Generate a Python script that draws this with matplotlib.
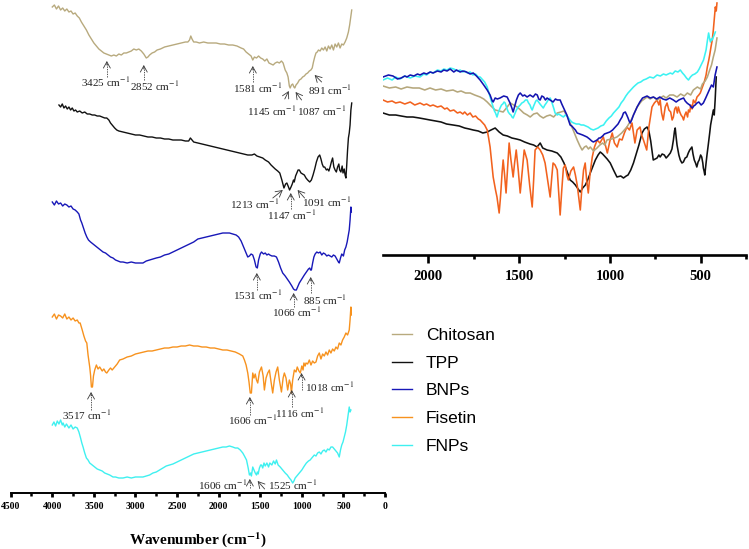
import numpy as np
import matplotlib
matplotlib.use("Agg")
import matplotlib.pyplot as plt
from matplotlib.lines import Line2D

plt.rcParams['mathtext.fontset'] = 'stix'

# ---------------- data (relative transmittance, a.u.) ----------------
series_names = ["Chitosan", "TPP", "BNPs", "Fisetin", "FNPs"]

# full-range spectra (left panel)
chitosan_full = [(4000,93),(3975,95),(3950,91),(3925,94),(3900,90),(3875,92),(3850,89),(3825,91),(3800,88),(3775,89),(3750,86),(3725,87),(3700,84),(3675,82),(3650,78),(3620,74),(3590,70),(3560,65),(3530,61),(3500,57),(3470,54),(3440,51),(3410,49),(3380,47),(3350,46),(3320,45),(3290,44),(3260,45),(3230,44),(3200,46),(3170,45),(3140,47),(3110,47),(3080,48),(3050,49),(3020,51),(2990,50),(2960,51),(2930,49),(2900,46),(2870,42),(2850,43),(2830,45),(2800,47),(2770,48),(2740,50),(2700,51),(2650,53),(2600,54),(2550,55),(2500,56),(2450,57),(2400,58),(2370,58),(2350,60),(2335,64),(2320,61),(2300,58),(2270,58),(2230,57),(2180,58),(2130,57),(2080,57),(2030,57),(1980,56),(1930,56),(1880,55),(1830,55),(1780,54),(1730,52),(1700,51),(1670,48),(1640,46),(1610,44),(1590,40),(1570,43),(1545,42),(1520,44),(1495,42),(1470,41),(1445,39),(1420,41),(1395,37),(1370,36),(1345,35),(1320,37),(1295,38),(1270,37),(1245,39),(1225,37),(1200,30),(1180,27),(1165,23),(1150,14),(1140,12),(1125,15),(1110,16),(1095,13),(1085,12),(1070,15),(1050,17),(1030,20),(1010,21),(990,23),(970,24),(950,26),(930,27),(910,29),(891,30),(875,32),(860,38),(845,43),(830,47),(815,48),(800,50),(780,49),(760,52),(740,50),(720,53),(700,49),(680,54),(660,51),(640,55),(620,50),(600,56),(580,53),(560,57),(540,52),(520,56),(500,55),(480,58),(460,62),(440,68),(425,75),(410,84),(400,90)]
tpp_full = [(3920,95),(3900,93),(3880,96),(3860,92),(3840,94),(3820,91),(3800,93),(3780,90),(3760,92),(3740,89),(3720,90),(3700,88),(3670,89),(3640,87),(3610,88),(3580,86),(3550,86),(3520,85),(3490,85),(3460,84),(3430,84),(3400,83),(3370,82),(3345,82),(3320,80),(3300,77),(3280,75),(3250,72),(3225,70),(3200,69),(3150,68),(3100,67),(3050,66),(3000,65),(2950,65),(2900,64),(2850,63),(2800,63),(2750,62),(2700,62),(2650,61),(2600,61),(2550,60),(2500,60),(2450,60),(2400,59),(2360,59),(2340,62),(2320,60),(2300,58),(2250,57),(2200,56),(2150,55),(2100,54),(2050,53),(2000,52),(1950,51),(1900,50),(1850,49),(1800,48),(1750,47),(1700,46),(1650,45),(1600,45),(1570,46),(1540,44),(1505,43),(1470,42),(1440,40),(1400,38),(1370,35),(1345,33),(1320,31),(1290,29),(1265,27),(1240,20),(1215,12),(1195,16),(1180,17),(1165,14),(1147,10),(1130,13),(1115,16),(1100,20),(1091,18),(1075,24),(1060,27),(1045,30),(1030,30),(1010,27),(990,26),(970,25),(950,22),(930,20),(905,18),(885,20),(865,25),(845,31),(825,38),(805,43),(785,45),(770,41),(755,36),(740,33),(725,33),(705,30),(690,31),(675,29),(660,33),(645,38),(630,42),(615,33),(600,30),(585,28),(570,33),(555,36),(545,30),(530,28),(515,34),(505,27),(490,31),(480,25),(470,22),(460,35),(450,50),(440,62),(430,67),(420,75),(410,90),(400,97)]
bnps_full = [(4000,98),(3975,95),(3950,99),(3925,96),(3900,97),(3875,94),(3850,96),(3825,95),(3800,93),(3775,94),(3750,91),(3725,90),(3700,88),(3680,86),(3660,80),(3645,77),(3625,72),(3605,67),(3585,63),(3565,60),(3540,58),(3510,56),(3480,54),(3450,52),(3420,50),(3390,48),(3360,47),(3330,45),(3300,43),(3270,42),(3240,40),(3210,39),(3180,38),(3150,38),(3100,37),(3050,38),(3000,37),(2950,37),(2910,37),(2870,39),(2830,40),(2790,41),(2750,42),(2700,43),(2650,45),(2600,46),(2550,48),(2500,50),(2450,52),(2400,54),(2350,56),(2300,58),(2250,61),(2200,62),(2150,63),(2100,64),(2050,65),(2000,66),(1950,67),(1910,67),(1870,67),(1830,66),(1790,65),(1760,63),(1730,59),(1710,55),(1690,51),(1670,47),(1650,43),(1630,44),(1610,46),(1590,45),(1570,40),(1550,33),(1535,32),(1520,40),(1500,46),(1485,48),(1460,46),(1440,47),(1420,45),(1400,46),(1385,45),(1360,44),(1330,44),(1305,43),(1280,38),(1255,32),(1230,27),(1200,24),(1175,21),(1150,18),(1120,14),(1100,11),(1085,10),(1066,10),(1050,13),(1030,17),(1000,21),(970,25),(945,28),(920,31),(905,32),(895,30),(885,30),(870,37),(855,43),(840,46),(820,48),(800,47),(780,48),(760,45),(740,47),(720,46),(700,44),(680,45),(660,44),(640,43),(620,45),(600,44),(580,41),(560,38),(550,37),(535,42),(520,46),(500,44),(485,50),(470,53),(455,58),(440,65),(430,70),(420,80),(410,93),(405,88)]
fisetin_full = [(4000,83),(3975,86),(3950,81),(3925,85),(3900,84),(3875,82),(3850,86),(3825,81),(3800,83),(3775,80),(3750,82),(3725,79),(3700,80),(3680,77),(3665,77),(3640,70),(3620,64),(3600,59),(3585,57),(3570,45),(3550,33),(3540,25),(3530,13),(3517,13),(3505,24),(3490,30),(3470,35),(3450,31),(3430,33),(3400,29),(3380,31),(3360,28),(3345,27),(3320,30),(3300,32),(3280,30),(3250,33),(3220,36),(3190,40),(3150,41),(3100,43),(3050,44),(3000,46),(2950,47),(2900,48),(2850,49),(2800,49),(2750,50),(2700,51),(2650,52),(2600,52),(2550,53),(2500,53),(2450,54),(2400,54),(2350,55),(2300,54),(2250,54),(2200,53),(2150,53),(2100,52),(2050,52),(2000,51),(1950,50),(1900,50),(1850,49),(1800,48),(1750,46),(1710,44),(1690,40),(1670,35),(1650,27),(1635,18),(1620,7),(1606,7),(1595,20),(1590,27),(1575,22),(1560,26),(1545,20),(1530,17),(1510,28),(1485,33),(1465,24),(1450,10),(1430,22),(1410,27),(1390,30),(1370,18),(1350,7),(1330,20),(1310,28),(1290,33),(1270,20),(1245,8),(1225,22),(1210,27),(1190,22),(1170,10),(1150,20),(1135,16),(1125,7),(1110,20),(1090,30),(1070,28),(1055,33),(1035,29),(1018,27),(1000,34),(985,30),(975,37),(960,34),(950,37),(930,36),(910,40),(890,35),(870,39),(850,37),(830,38),(810,44),(790,47),(770,41),(750,46),(730,44),(710,48),(690,45),(670,50),(650,47),(630,51),(610,49),(590,53),(570,51),(550,57),(530,55),(510,60),(490,63),(470,67),(450,65),(430,70),(420,80),(410,93),(405,85)]
fnps_full = [(4000,75),(3980,78),(3960,74),(3940,79),(3920,76),(3900,80),(3880,75),(3870,77),(3850,73),(3830,76),(3800,72),(3775,75),(3750,71),(3725,73),(3700,72),(3680,68),(3660,62),(3645,57),(3630,53),(3610,47),(3590,42),(3570,40),(3550,37),(3520,35),(3490,33),(3460,31),(3430,30),(3400,29),(3370,27),(3340,26),(3310,25),(3270,23),(3240,23),(3200,22),(3150,22),(3100,23),(3050,22),(3000,23),(2950,23),(2910,23),(2870,24),(2830,25),(2790,27),(2750,28),(2710,30),(2670,32),(2630,34),(2590,35),(2550,36),(2500,38),(2450,40),(2400,42),(2350,44),(2300,46),(2250,47),(2200,48),(2150,49),(2100,50),(2050,51),(2000,52),(1950,53),(1910,53),(1870,54),(1830,53),(1800,52),(1770,52),(1740,50),(1710,47),(1690,44),(1665,40),(1645,32),(1630,25),(1615,27),(1606,24),(1595,30),(1590,33),(1575,30),(1560,27),(1545,25),(1535,28),(1525,26),(1510,32),(1495,35),(1485,35),(1470,32),(1455,37),(1440,34),(1420,37),(1400,33),(1385,37),(1360,35),(1340,39),(1320,36),(1305,40),(1285,35),(1260,33),(1230,30),(1200,27),(1175,25),(1150,22),(1130,20),(1110,17),(1095,19),(1080,22),(1060,24),(1040,26),(1030,27),(1000,30),(970,34),(945,37),(920,39),(900,40),(870,43),(850,45),(830,44),(810,47),(790,48),(770,46),(750,49),(730,50),(710,48),(690,51),(670,50),(650,53),(630,53),(610,51),(590,49),(570,47),(550,43),(535,50),(520,55),(505,58),(490,63),(475,68),(460,75),(445,84),(430,93),(420,88),(410,90)]

# fingerprint-region spectra (right panel, common scale)
chitosan_fp = [(2250,169),(2215,167),(2180,168),(2150,166),(2118,168),(2085,167),(2050,167),(2020,165),(1991,167),(1960,165),(1930,166),(1900,164),(1864,165),(1840,163),(1820,164),(1795,162),(1770,162),(1745,160),(1715,158),(1695,156),(1676,153),(1655,149),(1632,145),(1610,144),(1588,143),(1570,147),(1549,152),(1530,150),(1511,148),(1492,145),(1475,142),(1455,140),(1439,138),(1420,141),(1401,142),(1385,139),(1367,137),(1348,139),(1329,140),(1310,138),(1290,142),(1270,143),(1253,144),(1235,139),(1219,132),(1200,124),(1180,115),(1165,109),(1153,105),(1140,108),(1130,109),(1118,106),(1108,108),(1090,104),(1071,107),(1055,110),(1040,112),(1028,110),(1016,115),(990,116),(961,118),(935,122),(906,128),(880,136),(850,148),(825,154),(795,158),(778,156),(760,158),(740,155),(723,157),(705,159),(690,157),(670,160),(650,160),(630,158),(610,161),(590,159),(573,162),(555,160),(540,165),(518,168),(500,166),(490,171),(475,174),(463,178),(450,185),(440,190),(430,198),(420,205),(410,217)]
tpp_fp = [(2250,142),(2215,140),(2180,140),(2150,139),(2118,138),(2085,138),(2050,137),(2020,136),(1991,135),(1960,134),(1930,133),(1900,131),(1864,130),(1830,129),(1800,127),(1775,126),(1753,125),(1725,124),(1700,122),(1676,123),(1655,125),(1632,127),(1610,123),(1588,120),(1565,119),(1540,117),(1515,116),(1494,115),(1470,113),(1440,111),(1420,110),(1401,108),(1384,112),(1370,107),(1346,105),(1320,104),(1290,102),(1270,98),(1253,92),(1235,83),(1219,75),(1205,73),(1190,70),(1175,66),(1163,63),(1150,67),(1135,70),(1120,76),(1108,82),(1095,88),(1080,95),(1065,100),(1053,103),(1040,101),(1030,99),(1015,96),(998,92),(980,85),(961,78),(940,79),(925,77),(910,79),(900,80),(885,85),(870,92),(855,101),(840,110),(823,122),(810,126),(795,128),(785,124),(775,114),(761,95),(750,96),(740,97),(730,100),(723,98),(712,101),(700,100),(690,97),(680,99),(667,102),(658,106),(650,115),(644,124),(640,127),(635,118),(630,110),(620,100),(612,95),(603,92),(595,93),(585,97),(576,98),(568,102),(560,105),(548,108),(542,101),(535,95),(528,92),(521,88),(514,93),(508,95),(500,100),(494,98),(488,92),(485,87),(481,84),(477,80),(470,92),(465,100),(458,110),(450,122),(445,130),(440,135),(430,145),(425,140),(420,155),(414,178)]
bnps_fp = [(2250,178),(2220,180),(2195,179),(2170,176),(2150,177),(2130,179),(2118,178),(2100,180),(2080,179),(2060,181),(2046,180),(2025,182),(2010,181),(1990,183),(1974,182),(1950,184),(1930,183),(1915,185),(1897,184),(1880,186),(1860,183),(1845,185),(1825,183),(1810,184),(1790,183),(1770,181),(1753,182),(1735,179),(1715,175),(1695,170),(1676,165),(1660,160),(1648,154),(1643,153),(1632,157),(1620,156),(1605,157),(1585,159),(1566,158),(1550,152),(1540,147),(1533,143),(1524,149),(1515,155),(1504,160),(1494,162),(1480,159),(1470,160),(1456,158),(1440,160),(1423,158),(1410,161),(1400,160),(1392,156),(1384,155),(1375,159),(1365,158),(1355,155),(1346,157),(1330,155),(1313,153),(1300,156),(1290,155),(1274,155),(1265,151),(1255,147),(1245,143),(1237,140),(1228,135),(1219,130),(1210,129),(1200,127),(1190,125),(1180,122),(1165,121),(1150,120),(1138,119),(1126,118),(1112,116),(1100,114),(1091,113),(1080,114),(1070,115),(1060,117),(1053,117),(1040,119),(1030,121),(1015,122),(1000,123),(985,125),(970,128),(955,131),(943,135),(933,138),(925,142),(915,143),(907,140),(900,137),(894,134),(888,132),(880,135),(870,140),(860,144),(850,148),(835,153),(820,157),(808,158),(795,159),(778,157),(760,158),(742,156),(725,158),(708,156),(690,155),(670,157),(650,155),(635,153),(620,155),(608,156),(594,157),(585,154),(575,152),(568,151),(560,150),(552,148),(545,147),(538,149),(530,150),(520,152),(510,153),(497,150),(485,152),(472,157),(460,162),(450,166),(440,170),(430,168),(425,174),(420,180),(410,188)]
fisetin_fp = [(2250,155),(2225,153),(2200,154),(2180,152),(2156,153),(2130,151),(2100,153),(2075,150),(2046,152),(2025,150),(2010,151),(1990,149),(1974,150),(1950,148),(1930,149),(1910,146),(1897,147),(1880,144),(1860,145),(1840,142),(1825,143),(1810,141),(1800,143),(1785,140),(1770,142),(1755,138),(1740,139),(1725,136),(1715,135),(1700,132),(1690,130),(1676,125),(1668,117),(1660,108),(1650,90),(1643,78),(1635,70),(1630,65),(1622,58),(1616,50),(1610,42),(1604,55),(1600,65),(1594,82),(1588,95),(1580,80),(1572,62),(1564,85),(1555,112),(1545,95),(1533,78),(1525,92),(1516,105),(1505,85),(1494,62),(1484,82),(1472,105),(1464,100),(1456,95),(1442,70),(1428,48),(1420,75),(1412,105),(1398,108),(1384,105),(1370,100),(1357,92),(1343,75),(1329,58),(1320,78),(1313,92),(1302,90),(1290,85),(1282,62),(1274,40),(1265,65),(1256,87),(1246,90),(1237,80),(1229,75),(1215,84),(1200,88),(1190,80),(1180,70),(1170,55),(1163,45),(1155,65),(1145,85),(1136,92),(1128,75),(1119,62),(1110,80),(1097,98),(1085,108),(1070,115),(1055,112),(1036,118),(1025,110),(1014,102),(1000,114),(987,122),(975,112),(960,108),(947,116),(933,115),(920,122),(906,128),(892,125),(878,132),(870,122),(862,112),(850,125),(834,128),(825,120),(815,115),(806,110),(797,105),(785,128),(775,140),(768,148),(755,152),(740,155),(730,150),(723,155),(715,142),(706,135),(695,148),(685,152),(675,145),(665,143),(657,135),(650,138),(643,146),(636,148),(628,142),(623,148),(615,143),(608,140),(600,138),(594,135),(587,140),(580,143),(572,138),(567,145),(560,143),(554,150),(547,146),(540,155),(530,152),(520,158),(510,160),(502,162),(490,168),(480,173),(470,180),(463,188),(455,195),(450,200),(443,208),(436,215),(430,225),(425,235),(419,248),(414,244),(410,252)]
fnps_fp = [(2250,175),(2225,177),(2200,175),(2180,178),(2156,176),(2130,179),(2100,177),(2075,179),(2046,178),(2025,181),(2010,180),(1990,183),(1974,182),(1950,185),(1930,184),(1915,186),(1897,185),(1880,187),(1860,186),(1840,184),(1825,185),(1810,183),(1800,184),(1785,182),(1770,183),(1755,180),(1740,181),(1725,178),(1715,178),(1700,175),(1690,173),(1676,168),(1668,163),(1660,158),(1650,152),(1643,148),(1636,144),(1630,142),(1622,138),(1614,143),(1605,147),(1597,150),(1590,151),(1583,153),(1577,152),(1568,147),(1560,143),(1552,141),(1545,140),(1539,138),(1533,137),(1524,141),(1515,145),(1505,148),(1494,150),(1485,152),(1475,153),(1465,155),(1456,155),(1448,152),(1440,150),(1434,147),(1428,145),(1420,149),(1415,151),(1408,154),(1401,155),(1393,153),(1385,151),(1376,149),(1367,147),(1358,150),(1350,152),(1340,155),(1329,157),(1322,154),(1315,150),(1308,146),(1302,142),(1296,141),(1290,140),(1282,141),(1274,140),(1265,139),(1256,138),(1246,140),(1237,139),(1228,137),(1220,135),(1210,133),(1200,132),(1185,131),(1170,131),(1158,130),(1145,130),(1132,129),(1120,128),(1105,126),(1091,125),(1078,126),(1065,127),(1050,129),(1035,130),(1020,134),(1005,137),(992,139),(980,142),(965,145),(950,148),(938,152),(925,155),(912,159),(900,162),(885,165),(870,168),(858,170),(845,172),(830,173),(815,175),(800,176),(780,178),(760,177),(740,180),(722,179),(705,181),(690,180),(667,182),(655,181),(640,184),(625,183),(612,185),(600,182),(590,180),(578,177),(567,175),(556,178),(545,180),(532,181),(518,183),(508,186),(500,189),(492,192),(484,195),(477,200),(470,205),(463,214),(456,222),(450,216),(446,213),(441,216),(436,215),(430,218),(425,220),(419,223)]

full_data = [chitosan_full, tpp_full, bnps_full, fisetin_full, fnps_full]
fp_data = [chitosan_fp, tpp_fp, bnps_fp, fisetin_fp, fnps_fp]

# peak annotations in the stacked panel: (series index, label, wavenumber of arrow)
peak_labels = [
    (0, "3425", 3344), (0, "2852", 2900), (0, "1581", 1589),
    (0, "1145", 1157), (0, "1087", 1075), (0, "891", 846),
    (1, "1213", 1229), (1, "1147", 1133), (1, "1091", 1051),
    (2, "1531", 1541), (2, "1066", 1098), (2, "885", 893),
    (3, "3517", 3534), (3, "1606", 1625), (3, "1116", 1121), (3, "1018", 1003),
    (4, "1606", 1625), (4, "1525", 1531),
]

# ---------------- styling ----------------
colors_full = ["#b8aa7e", "#111111", "#1818b8", "#f7921e", "#3ff0f0"]
colors_fp = ["#b5a77c", "#111111", "#1414b0", "#f2621e", "#3cf2f2"]
stack_offsets = [400, 300, 200, 100, 0]
fp_order = [1, 3, 0, 4, 2]

W, H = 749, 549
fig = plt.figure(figsize=(W / 100, H / 100), dpi=100)

axL = fig.add_axes([10.7 / W, 56 / H, 374.3 / W, 493 / H])
axR = fig.add_axes([383 / W, 294 / H, 363 / W, 255 / H])

for i, pts in enumerate(full_data):
    wn, t = zip(*pts)
    axL.plot(np.array(wn), np.array(t) + stack_offsets[i], color=colors_full[i], lw=1.0)

for i in fp_order:
    wn, t = zip(*fp_data[i])
    axR.plot(wn, t, color=colors_fp[i], lw=1.15)

axL.set_xlim(4500, 0)
axL.set_ylim(7, 500)
axR.set_xlim(2250, 250)
axR.set_ylim(0, 255)

for ax in (axL, axR):
    for s in ("left", "right", "top"):
        ax.spines[s].set_visible(False)
    ax.set_yticks([])
    ax.patch.set_alpha(0)

axL.spines["bottom"].set_linewidth(1.4)
axL.set_xticks(np.arange(4500, -1, -500))
axL.set_xticks(np.arange(4250, 0, -500), minor=True)
axL.tick_params(axis="x", which="major", length=2.6, width=2.0, pad=4, labelsize=7)
axL.tick_params(axis="x", which="minor", length=1.8, width=1.8)
for lab in axL.get_xticklabels():
    lab.set_fontfamily("Liberation Serif")
    lab.set_fontweight("bold")

axR.spines["bottom"].set_linewidth(1.9)
axR.set_xticks([2000, 1500, 1000, 500])
axR.set_xticks([1750, 1250, 750, 250], minor=True)
axR.tick_params(axis="x", which="major", length=5.8, width=1.9, pad=5, labelsize=10.5)
axR.tick_params(axis="x", which="minor", length=3.0, width=1.9)
for lab in axR.get_xticklabels():
    lab.set_fontfamily("Liberation Serif")
    lab.set_fontweight("bold")

# annotation layout: (text x, text y, ha, tail, tip y, dotted)
ann_layout = [
    (3365, 418, "center", 423, 439, True),
    (2767, 414, "center", 420, 435, True),
    (1529, 412, "center", 418, 434, True),
    (1361, 389, "center", (1205, 401), 409, False),
    (761, 389, "center", (1003, 400), 408, False),
    (665, 410, "center", (762, 418), 425, False),
    (1565, 296, "center", (1349, 302), 310, False),
    (1121, 285, "center", 291, 307, True),
    (701, 298, "center", (967, 302), 310, False),
    (1529, 205, "center", 210, 227, True),
    (1061, 188, "center", 193, 207, True),
    (725, 200, "center", 207, 223, True),
    (3582, 85, "center", 90, 108, True),
    (1589, 80, "center", 85, 103, True),
    (1025, 87, "center", 93, 110, True),
    (967, 113, "left", 110, 127, True),
    (1651, 15, "right", 12, 21, True),
    (1412, 15, "left", (1447, 11), 19, False),
]

acol = "#3a3a3a"
for (si, lab, wn_a), (tx, ty, ha, tail, tip_y, dotted) in zip(peak_labels, ann_layout):
    axL.text(tx, ty, lab + r" cm$^{-1}$", fontsize=8, family="Liberation Serif",
             ha=ha, va="center", color="#222222")
    if dotted:
        axL.plot([wn_a, wn_a], [tail, tip_y - 2], ls=(0, (1.6, 1.3)), lw=0.6, color=acol)
        axL.annotate("", xy=(wn_a, tip_y), xytext=(wn_a, tip_y - 4),
                     arrowprops=dict(arrowstyle="->,head_length=0.45,head_width=0.25",
                                     lw=0.6, color=acol, shrinkA=0, shrinkB=0,
                                     mutation_scale=10))
    else:
        axL.annotate("", xy=(wn_a, tip_y), xytext=tail,
                     arrowprops=dict(arrowstyle="->,head_length=0.45,head_width=0.25",
                                     lw=0.6, color=acol, shrinkA=0, shrinkB=0,
                                     mutation_scale=10))

fig.text(198 / W, 1 - 540 / H, r"Wavenumber (cm$^{\mathbf{-1}}$)", fontsize=11,
         family="Liberation Serif", fontweight="bold", ha="center", va="center")

handles = [Line2D([], [], color=colors_full[i], lw=1.0) for i in range(5)]
fig.legend(handles, series_names, loc="upper left", bbox_to_anchor=(392 / W, 1 - 328 / H),
           frameon=False, prop={"family": "Liberation Sans", "size": 12.5},
           handlelength=1.15, handletextpad=0.8, labelspacing=0.72,
           borderpad=0, borderaxespad=0)

fig.savefig("out.png", dpi=100)
